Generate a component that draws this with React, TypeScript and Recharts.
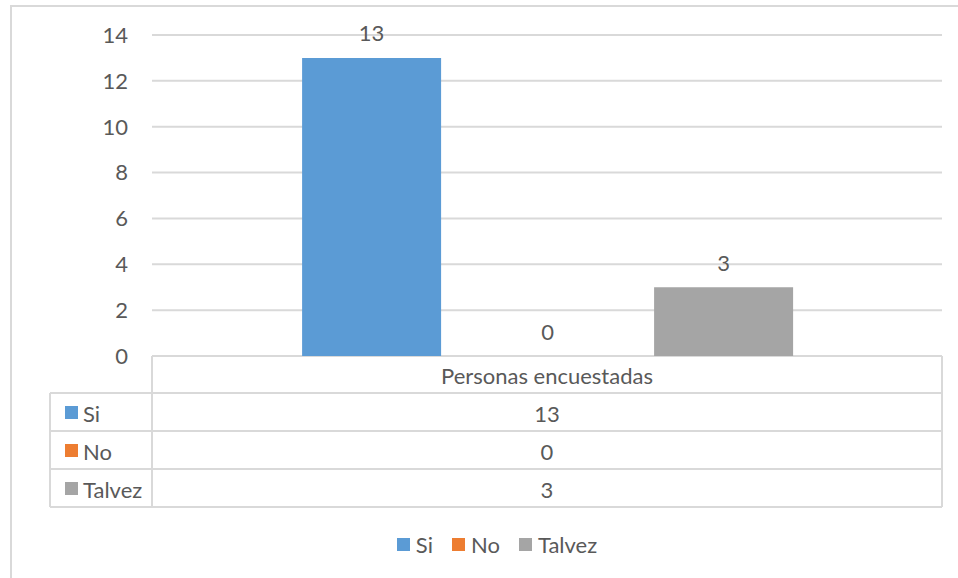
import React from 'react';
import { BarChart, Bar, XAxis, YAxis, CartesianGrid, Legend, Customized, Rectangle } from 'recharts';

const categories = ['Personas encuestadas'];
const seriesNames = ['Si', 'No', 'Talvez'];
const siValues = [13];
const noValues = [0];
const talvezValues = [3];
const yTicks = [0, 2, 4, 6, 8, 10, 12, 14];

const colors = ['#5b9bd5', '#ed7d31', '#a5a5a5'];
const seriesValues = [siValues, noValues, talvezValues];

const data = categories.map((c, i) => ({
  category: c,
  Si: siValues[i],
  No: noValues[i],
  Talvez: talvezValues[i],
}));

const W = 958;
const H = 578;
const M = { top: 35, right: 16, bottom: 222, left: 0 };
const YW = 152;
const FONT = 'Lato, "Open Sans", sans-serif';
const FS = 22;
const TXT = '#595959';
const LINE = '#d9d9d9';

const plotLeft = M.left + YW;
const plotRight = W - M.right;
const plotBottom = H - M.bottom;
const tableLeft = 50;
const rowH = 38;

const DataTable = () => {
  const headerBottom = plotBottom + 37;
  const rows = seriesNames.map((n, i) => ({ name: n, color: colors[i], value: seriesValues[i][0], top: headerBottom + i * rowH }));
  const tableBottom = headerBottom + rows.length * rowH;
  const cx = (plotLeft + plotRight) / 2;
  return (
    <g>
      <line x1={plotLeft} x2={plotRight} y1={plotBottom} y2={plotBottom} stroke={LINE} strokeWidth={2} />
      <line x1={plotLeft} x2={plotLeft} y1={plotBottom} y2={tableBottom} stroke={LINE} strokeWidth={2} />
      <line x1={plotRight} x2={plotRight} y1={plotBottom} y2={tableBottom} stroke={LINE} strokeWidth={2} />
      <line x1={tableLeft} x2={tableLeft} y1={headerBottom} y2={tableBottom} stroke={LINE} strokeWidth={2} />
      <line x1={tableLeft} x2={plotRight} y1={headerBottom} y2={headerBottom} stroke={LINE} strokeWidth={2} />
      <text x={cx} y={(plotBottom + headerBottom) / 2 + 1} textAnchor="middle" dominantBaseline="central" fill={TXT} fontSize={FS} fontFamily={FONT}>
        {categories[0]}
      </text>
      {rows.map((r) => (
        <g key={r.name}>
          <line x1={tableLeft} x2={plotRight} y1={r.top + rowH} y2={r.top + rowH} stroke={LINE} strokeWidth={2} />
          <rect x={65} y={r.top + rowH / 2 - 6} width={13} height={13} fill={r.color} />
          <text x={83} y={r.top + rowH / 2 + 1} dominantBaseline="central" fill={TXT} fontSize={FS} fontFamily={FONT}>
            {r.name}
          </text>
          <text x={cx} y={r.top + rowH / 2 + 1} textAnchor="middle" dominantBaseline="central" fill={TXT} fontSize={FS} fontFamily={FONT}>
            {r.value}
          </text>
        </g>
      ))}
    </g>
  );
};

const LegendContent = () => (
  <div style={{ display: 'flex', justifyContent: 'center', alignItems: 'center', fontFamily: FONT, fontSize: FS, color: TXT }}>
    {seriesNames.map((n, i) => (
      <span key={n} style={{ display: 'inline-flex', alignItems: 'center', marginRight: i < seriesNames.length - 1 ? 19 : 0 }}>
        <span style={{ width: 13, height: 13, background: colors[i], display: 'inline-block', marginRight: 6 }} />
        {n}
      </span>
    ))}
  </div>
);

const makeLabel = (key: string) => (props: any) => {
  const { x, y, width, index } = props;
  const value = data[index ?? 0][key as 'Si'];
  const top = value > 0 ? Number(y) : Number(y) + Number(props.height || 0);
  return (
    <text x={Number(x) + Number(width) / 2} y={top - 25} textAnchor="middle" dominantBaseline="central" fill={TXT} fontSize={FS} fontFamily={FONT}>
      {value}
    </text>
  );
};

const makeShape = (key: string) => (props: any) => {
  const value = props.payload ? props.payload[key] : 1;
  return value > 0 ? <Rectangle {...props} /> : <g />;
};

export default function App() {
  return (
    <div style={{ position: 'absolute', left: 0, top: 0, width: W, height: H, background: '#fff' }}>
      <svg width={W} height={H} style={{ position: 'absolute', left: 0, top: 0 }}>
        <rect x={11} y={6} width={W + 20} height={H + 20} fill="none" stroke={LINE} strokeWidth={2} />
      </svg>
      <div style={{ position: 'absolute', left: 0, top: 0 }}>
        <BarChart width={W} height={H} data={data} margin={M} barCategoryGap="19%" barGap={37}>
          <CartesianGrid vertical={false} stroke={LINE} strokeWidth={2} />
          <XAxis dataKey="category" hide />
          <YAxis
            width={YW}
            domain={[0, 14]}
            ticks={yTicks}
            axisLine={false}
            tickLine={false}
            tickSize={0}
            tickMargin={24}
            tick={{ fill: TXT, fontSize: FS, fontFamily: FONT }}
          />
          {seriesNames.map((n, i) => (
            <Bar
              key={n}
              dataKey={n}
              fill={colors[i]}
              isAnimationActive={false}
              minPointSize={1}
              shape={makeShape(n)}
              label={makeLabel(n)}
            />
          ))}
          <Legend verticalAlign="middle" layout="horizontal" align="center" wrapperStyle={{ top: 531, left: 26 }} content={<LegendContent />} />
          <Customized component={<DataTable />} />
        </BarChart>
      </div>
    </div>
  );
}
